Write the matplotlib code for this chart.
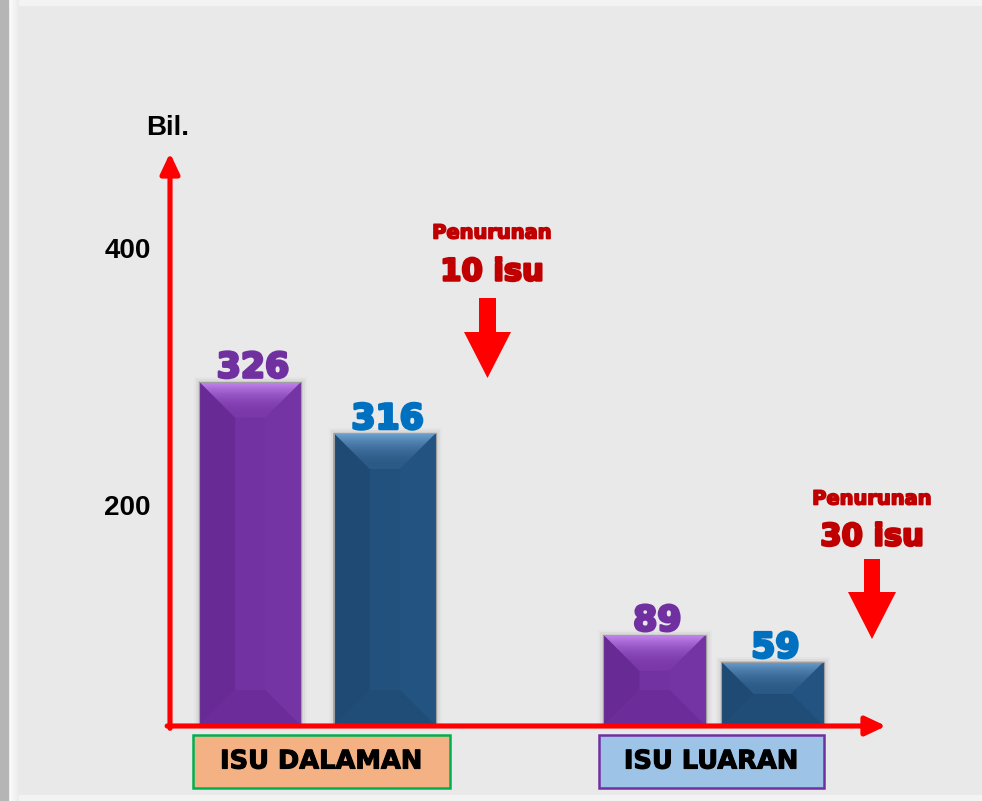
import numpy as np
import matplotlib
matplotlib.use("Agg")
import matplotlib.pyplot as plt
from matplotlib.patches import Rectangle, Polygon
from matplotlib.colors import LinearSegmentedColormap
import matplotlib.transforms as mtransforms
import matplotlib.patheffects as pe

# ---------------- data ----------------
categories = ["ISU DALAMAN", "ISU LUARAN"]
series_names = ["Tahun sebelum", "Tahun semasa"]
counts = [[326, 316], [89, 59]]                 # value labels on bars
bar_heights_on_axis = [[296, 256], [99, 78]]    # bar tops as read against the 200/400 axis
yticks = [200, 400]
ytick_labels = ["200", "400"]
y_label = "Bil."
decline_labels = ["10 isu", "30 isu"]
decline_title = "Penurunan"

# ---------------- style ----------------
W, H = 982, 801
BG = "#e9e9e9"
bar_main = ["#7232a1", "#22517e"]
bar_left = ["#682b95", "#1e4a74"]
bar_right = ["#7434a4", "#235380"]
bar_bottom = ["#6c2d9a", "#204c78"]
bar_top_grad = [("#c486f0", "#7a38a9"), ("#6ea3d3", "#2c5a87")]
label_colors = ["#7030a0", "#0070c0"]
box_fill = ["#f4b183", "#9dc3e6"]
box_edge = ["#00b050", "#7030a0"]
RED = "#ff0000"
DARKRED = "#c00000"
heavy = dict(family=["DejaVu Sans"], weight="bold")

def thick(color, w=1.6):
    return [pe.withStroke(linewidth=w, foreground=color)]

fig = plt.figure(figsize=(W / 100, H / 100), dpi=100, facecolor=BG)

# background decoration (pixel coordinates)
bg = fig.add_axes([0, 0, 1, 1], zorder=-5)
bg.axis("off")
bg.add_patch(Rectangle((0, 0), W, 5, color="#f3f3f3", zorder=1))
bg.add_patch(Rectangle((0, H - 6), W, 6, color="#f3f3f3", zorder=1))
grad = np.linspace(0, 1, 50).reshape(1, -1)
bg.imshow(grad, extent=(8, 19, H, 0), aspect="auto", zorder=2,
          cmap=LinearSegmentedColormap.from_list("w", ["#ffffff", "#ebebeb"]))
bg.add_patch(Rectangle((0, 0), 8, H, color="#b5b5b5", zorder=3))
bg.set_xlim(0, W); bg.set_ylim(H, 0)

# ---------------- main axes ----------------
ax_left, ax_right, ax_top, ax_bottom = 170, 886, 153, 726
ax = fig.add_axes([ax_left / W, (H - ax_bottom) / H,
                   (ax_right - ax_left) / W, (ax_bottom - ax_top) / H])
ax.patch.set_alpha(0)
px_per_unit = 1.285
zero_px = 762
ax.set_ylim((zero_px - ax_bottom) / px_per_unit, (zero_px - ax_top) / px_per_unit)
group_px = 396.0
ax.set_xlim(-(317.5 - ax_left) / group_px, (ax_right - 317.5) / group_px)

for s in ax.spines.values():
    s.set_visible(False)
ax.set_xticks([])
ax.set_yticks(yticks)
ax.set_yticklabels(ytick_labels, fontsize=20, fontweight="bold", color="black",
                   family=["Liberation Sans", "DejaVu Sans"])
ax.tick_params(axis="y", length=0, pad=14)

offsets = [(-0.17, 0.17), (-0.149, 0.149)]
bar_w = 0.258
ymin = ax.get_ylim()[0]

def to_px(x, y):
    return ax.transData.transform((x, y))

def to_data(p):
    return ax.transData.inverted().transform(p)

for gi, cat in enumerate(categories):
    for si in range(len(series_names)):
        xc = gi + offsets[gi][si]
        h = bar_heights_on_axis[gi][si]
        ax.bar(xc, h - ymin, bottom=ymin, width=bar_w, color=bar_main[si],
               edgecolor="none", zorder=3)
        # soft shadow
        for k, a in enumerate([0.06, 0.035, 0.02]):
            ax.bar(xc, h - ymin, bottom=ymin, width=bar_w, color="none",
                   edgecolor=(0, 0, 0, a), linewidth=2 + 3 * k, zorder=2)
        # bevel polygons in pixel space
        (x0, y0) = to_px(xc - bar_w / 2, ymin)
        (x1, y1) = to_px(xc + bar_w / 2, h)
        d = min(36.0, (y1 - y0) / 2.0)
        polys = {
            "left": [(x0, y1), (x0 + d, y1 - d), (x0 + d, y0 + d), (x0, y0)],
            "right": [(x1, y1), (x1 - d, y1 - d), (x1 - d, y0 + d), (x1, y0)],
            "bottom": [(x0, y0), (x1, y0), (x1 - d, y0 + d), (x0 + d, y0 + d)],
            "top": [(x0, y1), (x1, y1), (x1 - d, y1 - d), (x0 + d, y1 - d)],
        }
        cols = {"left": bar_left[si], "right": bar_right[si], "bottom": bar_bottom[si]}
        for key in ["left", "right", "bottom"]:
            pts = np.array([to_data(p) for p in polys[key]])
            ax.add_patch(Polygon(pts, closed=True, facecolor=cols[key],
                                 edgecolor="none", zorder=4))
        pts = np.array([to_data(p) for p in polys["top"]])
        top_poly = Polygon(pts, closed=True, facecolor="none", edgecolor="none", zorder=4)
        ax.add_patch(top_poly)
        c_top, c_bot = bar_top_grad[si]
        cm = LinearSegmentedColormap.from_list("g", [c_bot, c_top])
        ty0 = to_data((x0, y1 - d))[1]
        im = ax.imshow(np.linspace(0, 1, 64).reshape(-1, 1) ** 2.2, cmap=cm, origin="lower",
                       extent=(xc - bar_w / 2, xc + bar_w / 2, ty0, h),
                       aspect="auto", zorder=4.5)
        im.set_clip_path(top_poly)
        ax.add_patch(Rectangle((xc - bar_w / 2, ymin), bar_w, h - ymin, facecolor="none",
                               edgecolor="#a0a0a0", linewidth=0.8, zorder=5))
        ax.annotate(str(counts[gi][si]), (xc, h), xytext=(2, 3),
                    textcoords="offset points", ha="center", va="baseline",
                    fontsize=25, color=label_colors[si], zorder=6,
                    path_effects=thick(label_colors[si], 2.0), **heavy)

ax.set_xlim(-(317.5 - ax_left) / group_px, (ax_right - 317.5) / group_px)
ax.set_ylim((zero_px - ax_bottom) / px_per_unit, (zero_px - ax_top) / px_per_unit)

# category boxes below axis
trans = mtransforms.blended_transform_factory(ax.transData, ax.transAxes)
box_w = [0.649, 0.568]
box_dx = [0.01, -0.005]
for gi, cat in enumerate(categories):
    cx = gi + box_dx[gi]
    ax.add_patch(Rectangle((cx - box_w[gi] / 2, -0.109), box_w[gi], 0.094,
                           transform=trans, facecolor=box_fill[gi],
                           edgecolor=box_edge[gi], linewidth=1.8, clip_on=False, zorder=3))
    ax.text(cx, -0.062, cat, transform=trans, ha="center", va="center",
            fontsize=18.5, fontweight="bold", color="black",
            family=["DejaVu Sans"], zorder=4, path_effects=thick("black", 0.8))

# axis arrows
arrow_kw = dict(arrowstyle="-|>,head_length=0.34,head_width=0.16", color=RED,
                lw=3.7, mutation_scale=36, shrinkA=0, shrinkB=0)
ax.annotate("", xy=(0, 1), xytext=(0, -0.004), xycoords="axes fraction",
            arrowprops=arrow_kw, annotation_clip=False, zorder=7)
ax.annotate("", xy=(1, 0), xytext=(-0.004, 0), xycoords="axes fraction",
            arrowprops=arrow_kw, annotation_clip=False, zorder=7)
ax.text(-0.003, 1.044, y_label, transform=ax.transAxes, ha="center", va="center",
        fontsize=20, fontweight="bold", family=["Liberation Sans", "DejaVu Sans"])

# overlay annotations (pixel space)
ov = fig.add_axes([0, 0, 1, 1], zorder=10)
ov.set_xlim(0, W); ov.set_ylim(H, 0); ov.axis("off"); ov.patch.set_alpha(0)

ann = [
    dict(tx=492, ty1=233, ty2=272, shaft=(479, 496, 298, 332), head=(464, 511, 378)),
    dict(tx=872, ty1=499, ty2=537, shaft=(864, 880, 559, 592), head=(848, 896, 639)),
]
for a, lab in zip(ann, decline_labels):
    ov.text(a["tx"], a["ty1"], decline_title, ha="center", va="center",
            fontsize=14, color=DARKRED, path_effects=thick(DARKRED, 1.2), **heavy)
    ov.text(a["tx"], a["ty2"], lab, ha="center", va="center",
            fontsize=22, color=DARKRED, path_effects=thick(DARKRED, 1.8), **heavy)
    sx0, sx1, sy0, sy1 = a["shaft"]
    hx0, hx1, tip = a["head"]
    pts = [(sx0, sy0), (sx1, sy0), (sx1, sy1), (hx1, sy1), ((hx0 + hx1) / 2, tip),
           (hx0, sy1), (sx0, sy1)]
    ov.add_patch(Polygon(pts, closed=True, facecolor=RED, edgecolor="none"))

fig.savefig("out.png", dpi=100, facecolor=BG)
